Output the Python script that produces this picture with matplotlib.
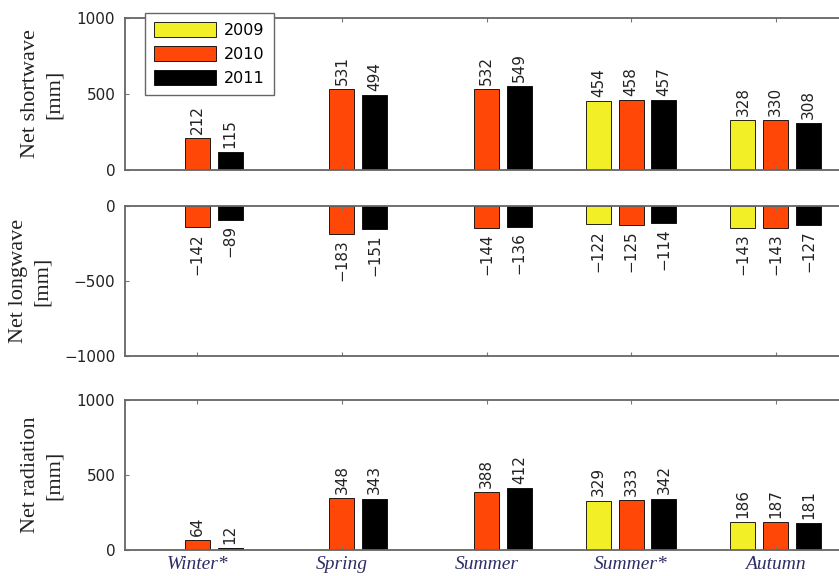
import numpy as np
import matplotlib
matplotlib.use("Agg")
import matplotlib.pyplot as plt

nan = np.nan

seasons = ["Winter*", "Spring", "Summer", "Summer*", "Autumn"]
years = ["2009", "2010", "2011"]

# net shortwave [mm]
sw_2009 = [nan, nan, nan, 454, 328]
sw_2010 = [212, 531, 532, 458, 330]
sw_2011 = [115, 494, 549, 457, 308]

# net longwave [mm]
lw_2009 = [nan, nan, nan, -122, -143]
lw_2010 = [-142, -183, -144, -125, -143]
lw_2011 = [-89, -151, -136, -114, -127]

# net radiation [mm]
rn_2009 = [nan, nan, nan, 329, 186]
rn_2010 = [64, 348, 388, 333, 187]
rn_2011 = [12, 343, 412, 342, 181]

colors = ["#f2ef26", "#ff4808", "#000000"]
serif = "Liberation Serif"

fig = plt.figure(figsize=(8.39, 5.76), dpi=100)

W = 848 / 839 - 0.149
ax1 = fig.add_axes([0.149, 0.705, W, 0.264])
ax2 = fig.add_axes([0.149, 0.382, W, 0.260])
ax3 = fig.add_axes([0.149, 0.045, W, 0.261])

x = np.arange(1, len(seasons) + 1)
off = 0.227
bw = 0.172


def draw(ax, series, ylim, yticks, ylabel):
    bars = []
    for k, vals in enumerate(series):
        vals = np.array(vals, dtype=float)
        b = ax.bar(x + (k - 1) * off, vals, bw, color=colors[k],
                   edgecolor="black", linewidth=0.6, label=years[k])
        bars.append(b)
        for xi, v in zip(x + (k - 1) * off, vals):
            if np.isnan(v):
                continue
            txt = f"{int(v)}".replace("-", "\u2212")
            if v >= 0:
                ax.annotate(txt, (xi, v), xytext=(0, 3), textcoords="offset points",
                            rotation=90, ha="center", va="bottom", fontsize=11,
                            color="#222222")
            else:
                ax.annotate(txt, (xi, v), xytext=(0, -4), textcoords="offset points",
                            rotation=90, ha="center", va="top", fontsize=11,
                            color="#222222")
    ax.set_xlim(0.5, 5.5)
    ax.set_ylim(*ylim)
    ax.set_yticks(yticks)
    ax.set_xticks(x)
    ax.tick_params(direction="in", top=True, length=3, color="#777777",
                   labelsize=11, pad=7, labelcolor="#222222")
    for s in ax.spines.values():
        s.set_color("#666666")
        s.set_linewidth(1.3)
    ax.set_ylabel(ylabel, fontsize=16, family=serif, labelpad=9,
                  color="#222222", linespacing=1.35)
    return bars


bars = draw(ax1, [sw_2009, sw_2010, sw_2011], (0, 1000), [0, 500, 1000],
            "Net shortwave\n[mm]")
draw(ax2, [lw_2009, lw_2010, lw_2011], (-1000, 0), [-1000, -500, 0],
     "Net longwave\n[mm]")
draw(ax3, [rn_2009, rn_2010, rn_2011], (0, 1000), [0, 500, 1000],
     "Net radiation\n[mm]")

ax1.set_xticklabels([])
ax2.set_xticklabels([])
ax3.set_xticklabels(seasons, fontsize=14, family=serif, style="italic",
                    color="#2e2e66")
ax3.tick_params(axis="x", pad=4)

leg = fig.legend(handles=bars, labels=years, loc="upper left",
                 bbox_to_anchor=(145 / 839, 1 - 13 / 576),
                 bbox_transform=fig.transFigure, borderaxespad=0,
                 fontsize=11.5, handlelength=3.9, handleheight=1.1,
                 labelspacing=0.5, borderpad=0.55, handletextpad=0.5,
                 fancybox=False, framealpha=1)
leg.get_frame().set_edgecolor("#666666")
leg.get_frame().set_linewidth(1.0)

fig.savefig("out.png", dpi=100)
